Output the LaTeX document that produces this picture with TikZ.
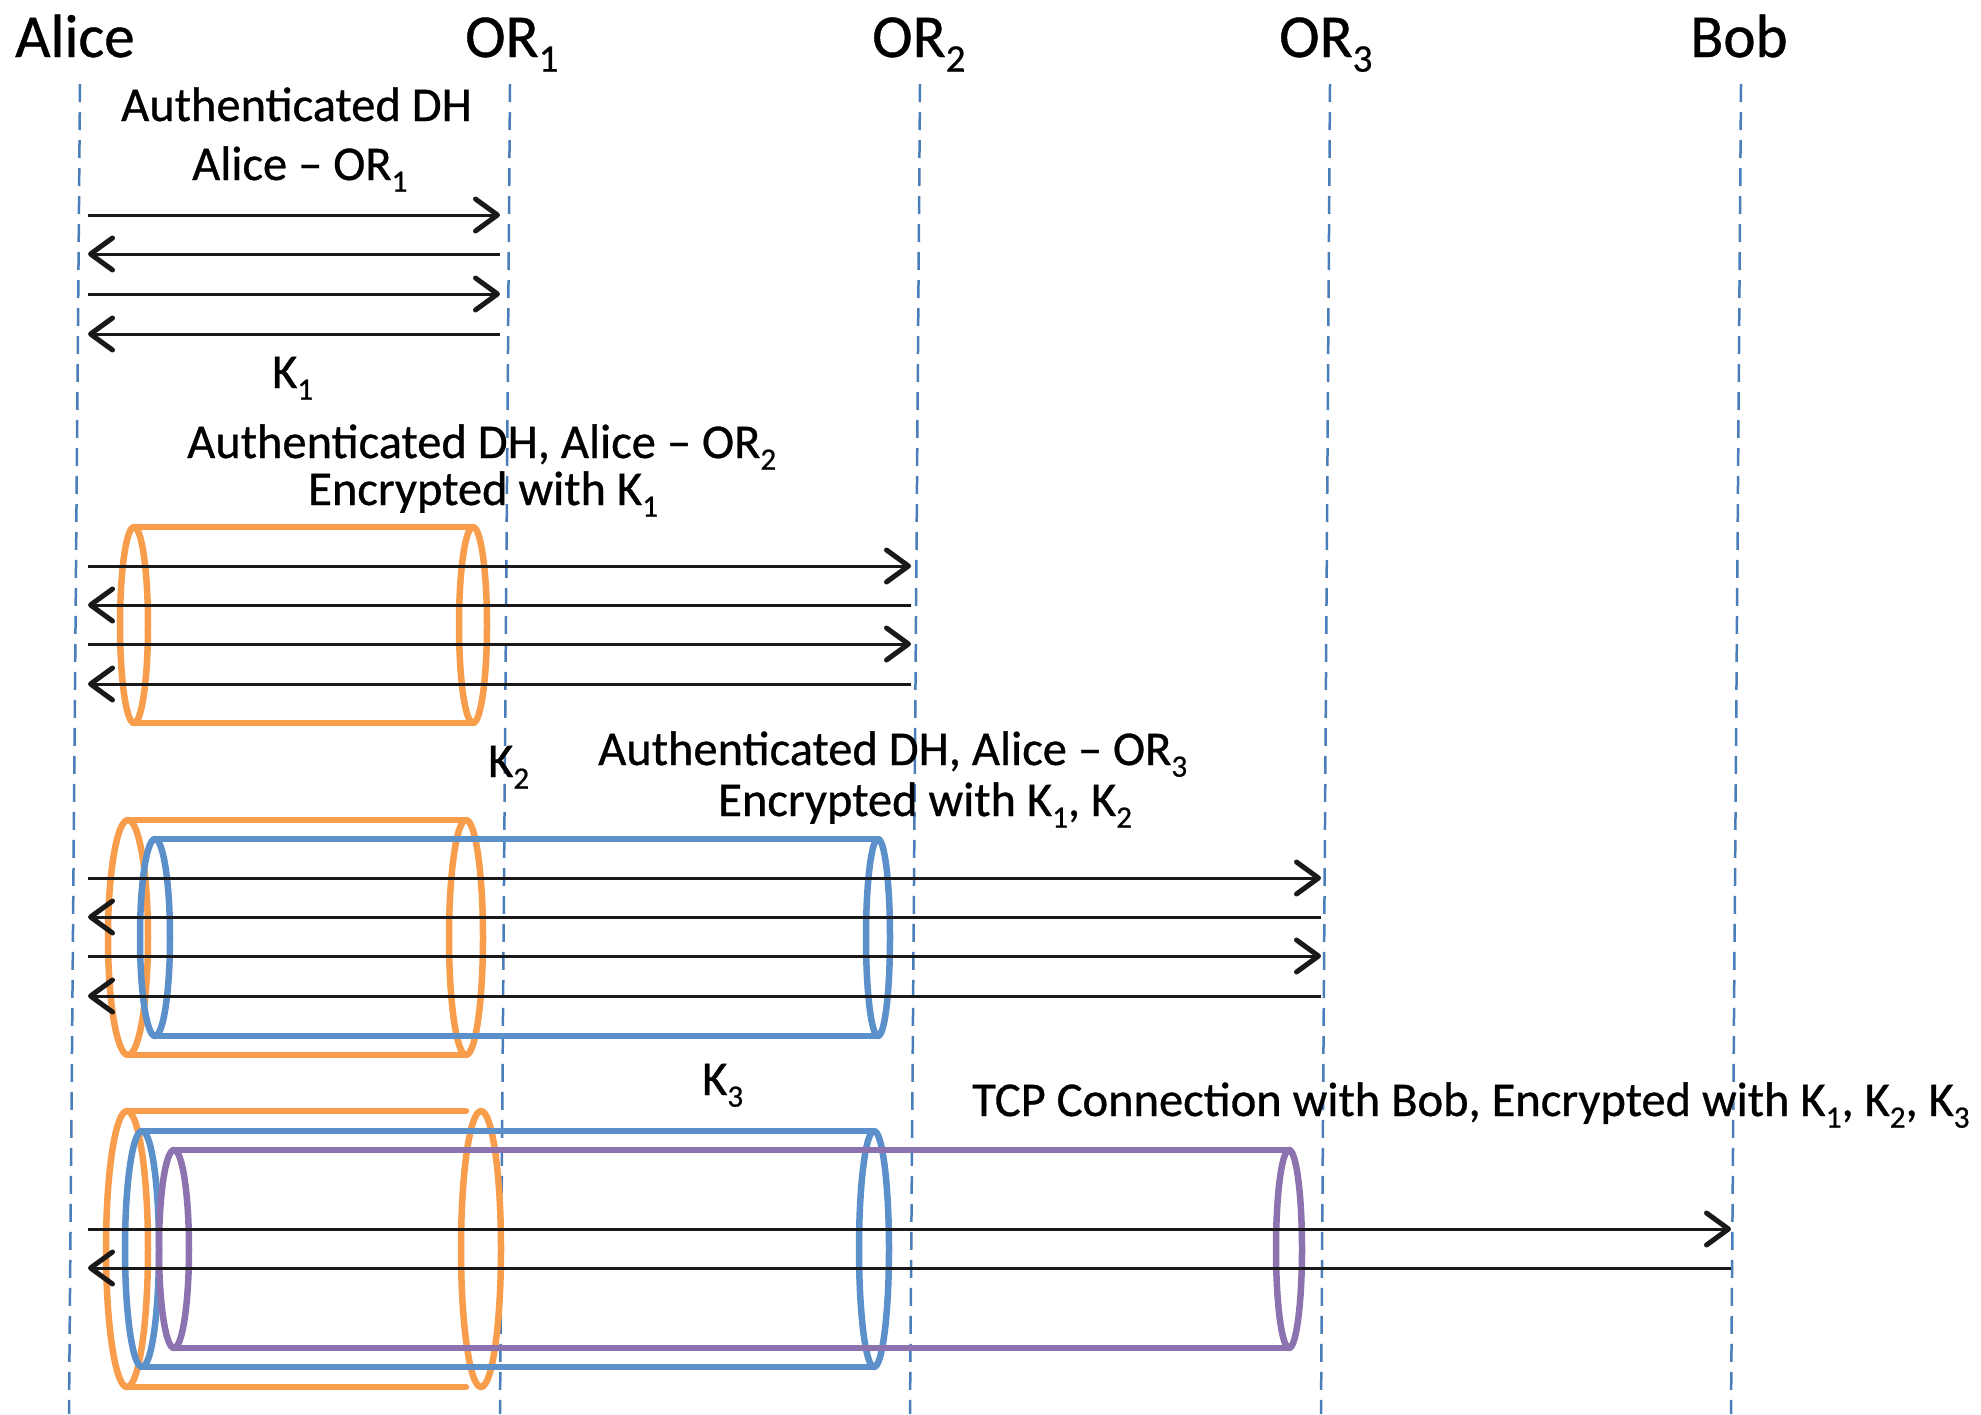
\documentclass[tikz,border=0pt]{standalone}
\usepackage{fontspec}
\setmainfont{Carlito}
\newfontfamily\diagfont{Carlito}[BoldFont=Carlito, BoldFeatures={FakeBold=0.7}]
\usepackage{graphicx}
\usetikzlibrary{arrows.meta}

\definecolor{pipeorange}{HTML}{F79D4C}
\definecolor{pipeblue}{HTML}{5B90CB}
\definecolor{pipepurple}{HTML}{8C73AF}
\definecolor{lifeblue}{HTML}{4A7EBB}

% lowered, reduced index such as the 1 in OR_1
\newcommand{\lowsub}[1]{\raisebox{-0.24em}{\scalebox{0.64}{#1}}}

\tikzset{
  party/.style={anchor=base west, inner sep=0pt, font=\diagfont\fontsize{61}{72}\bfseries},
  label/.style={anchor=base west, inner sep=0pt, font=\diagfont\fontsize{48.5}{58}\bfseries},
  lifeline/.style={draw=lifeblue, line width=2.5pt, dash pattern=on 18pt off 10pt},
  msg/.style={draw=black!90, line width=3pt,
    -{Straight Barb[length=22pt, width=32pt, line width=5pt, round]}},
  pipe/.style={line width=6.5pt, line join=round, line cap=round},
}

\begin{document}
\begin{tikzpicture}[x=1pt, y=-1pt]
\useasboundingbox (0,0) rectangle (1981,1414);
\fill[white] (0,0) rectangle (1981,1414);

% participants
\node[party] (alice) at (15,57) {Alice};
\node[party] (or1)   at (465,57) {OR\lowsub{1}};
\node[party] (or2)   at (872,57) {OR\lowsub{2}};
\node[party] (or3)   at (1279,57) {OR\lowsub{3}};
\node[party] (bob)   at (1690,57) {Bob};

% lifelines (slightly slanted)
\coordinate (aliceT) at (80,84);   \coordinate (aliceB) at (69,1414);
\coordinate (or1T)   at (510,84);  \coordinate (or1B)   at (500,1414);
\coordinate (or2T)   at (920,84);  \coordinate (or2B)   at (910,1414);
\coordinate (or3T)   at (1330,84); \coordinate (or3B)   at (1321,1414);
\coordinate (bobT)   at (1741,84); \coordinate (bobB)   at (1731,1414);
\foreach \p in {alice,or1,or2,or3,bob}
  \draw[lifeline] (\p T) -- (\p B);

% ---- stage 1: DH with OR1
\node[label] (t1a) at (121,121) {Authenticated DH};
\node[label] (t1b) at (192,180) {Alice – OR\lowsub{1}};
\node[label] (k1)  at (272,388) {K\lowsub{1}};
\foreach \i/\y in {1/215,2/254,3/294,4/334} {
  \coordinate (s1a\i) at (88,\y);
  \coordinate (s1b\i) at (500,\y);
}
\draw[msg] (s1a1) -- (s1b1);
\draw[msg] (s1b2) -- (s1a2);
\draw[msg] (s1a3) -- (s1b3);
\draw[msg] (s1b4) -- (s1a4);

% ---- stage 2: DH with OR2 through K1
\node[label] (t2a) at (187,458) {Authenticated DH, Alice – OR\lowsub{2}};
\node[label] (t2b) at (308,505) {Encrypted with K\lowsub{1}};
\draw[pipe, pipeorange] (134,527) -- (473,527) (134,723) -- (473,723);
\draw[pipe, pipeorange] (134,625) ellipse [x radius=14pt, y radius=98pt];
\draw[pipe, pipeorange] (473,625) ellipse [x radius=14pt, y radius=98pt];
\foreach \i/\y in {1/566,2/605,3/644,4/684} {
  \coordinate (s2a\i) at (88,\y);
  \coordinate (s2b\i) at (911,\y);
}
\draw[msg] (s2a1) -- (s2b1);
\draw[msg] (s2b2) -- (s2a2);
\draw[msg] (s2a3) -- (s2b3);
\draw[msg] (s2b4) -- (s2a4);

% ---- stage 3: DH with OR3 through K1, K2
\node[label] (k2)  at (488,777) {K\lowsub{2}};
\node[label] (t3a) at (598,765) {Authenticated DH, Alice – OR\lowsub{3}};
\node[label] (t3b) at (718,816) {Encrypted with K\lowsub{1}, K\lowsub{2}};
\draw[pipe, pipeorange] (128,820) -- (466,820) (128,1055) -- (466,1055);
\draw[pipe, pipeorange] (128,937.5) ellipse [x radius=20pt, y radius=117.5pt];
\draw[pipe, pipeorange] (466,937.5) ellipse [x radius=17pt, y radius=117.5pt];
\draw[pipe, pipeblue] (155,839) -- (878,839) (155,1036) -- (878,1036);
\draw[pipe, pipeblue] (155,937.5) ellipse [x radius=15pt, y radius=98.5pt];
\draw[pipe, pipeblue] (878,937.5) ellipse [x radius=12pt, y radius=98.5pt];
\foreach \i/\y in {1/878,2/917,3/956,4/996} {
  \coordinate (s3a\i) at (88,\y);
  \coordinate (s3b\i) at (1321,\y);
}
\draw[msg] (s3a1) -- (s3b1);
\draw[msg] (s3b2) -- (s3a2);
\draw[msg] (s3a3) -- (s3b3);
\draw[msg] (s3b4) -- (s3a4);

% ---- stage 4: TCP to Bob through K1, K2, K3
\node[label] (k3) at (702,1095) {K\lowsub{3}};
\node[label] (t4) at (972,1116) {TCP Connection with Bob, Encrypted with K\lowsub{1}, K\lowsub{2}, K\lowsub{3}};
\draw[pipe, pipeorange] (127,1111) -- (466,1111) (127,1387) -- (466,1387);
\draw[pipe, pipeorange] (127,1249) ellipse [x radius=21pt, y radius=138pt];
\draw[pipe, pipeorange] (481,1249) ellipse [x radius=20pt, y radius=138pt];
\draw[pipe, pipeblue] (142,1131) -- (874,1131) (142,1367) -- (874,1367);
\draw[pipe, pipeblue] (142,1249) ellipse [x radius=17pt, y radius=118pt];
\draw[pipe, pipeblue] (874,1249) ellipse [x radius=15pt, y radius=118pt];
\draw[pipe, pipepurple] (174,1150) -- (1289,1150) (174,1348) -- (1289,1348);
\draw[pipe, pipepurple] (174,1249) ellipse [x radius=15pt, y radius=99pt];
\draw[pipe, pipepurple] (1289,1249) ellipse [x radius=13pt, y radius=99pt];
\coordinate (s4a1) at (88,1229);  \coordinate (s4b1) at (1731,1229);
\coordinate (s4a2) at (88,1268);  \coordinate (s4b2) at (1731,1268);
\draw[msg] (s4a1) -- (s4b1);
\draw[msg] (s4b2) -- (s4a2);
\end{tikzpicture}
\end{document}
